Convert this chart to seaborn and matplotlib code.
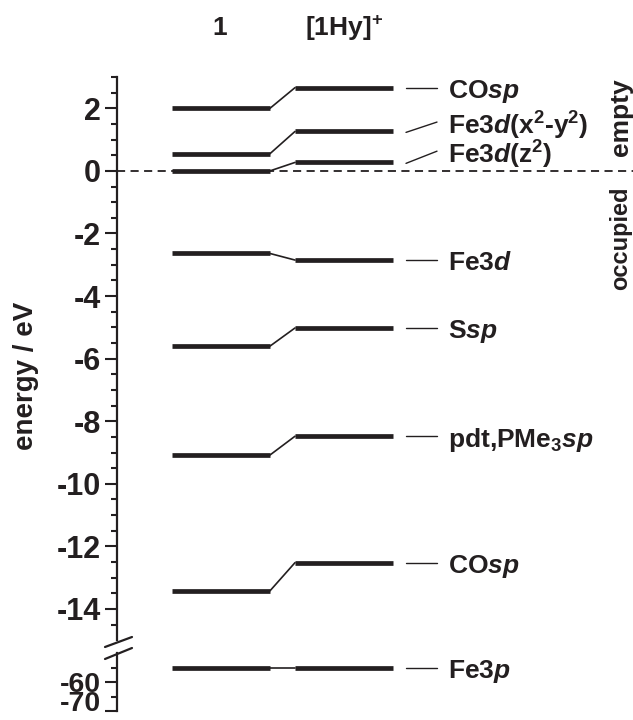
import numpy as np
import pandas as pd
import matplotlib
matplotlib.use("Agg")
import matplotlib.pyplot as plt
from matplotlib.lines import Line2D
import seaborn as sns

# ---------------- data ----------------
species = ["1", "[1Hy]$^{+}$"]
orbitals = ["COsp_up", "Fe3d(x2-y2)", "Fe3d(z2)", "Fe3d", "Ssp", "pdt,PMe3sp", "COsp_low", "Fe3p"]
energy_1 = [2.0, 0.55, 0.0, -2.64, -5.60, -9.08, -13.42, -55.3]
energy_hy = [2.66, 1.26, 0.27, -2.85, -5.02, -8.48, -12.52, -55.3]
orbital_labels = [r"CO$\mathit{sp}$", r"Fe3$\mathit{d}$(x$^{2}$-y$^{2}$)", r"Fe3$\mathit{d}$(z$^{2}$)",
                  r"Fe3$\mathit{d}$", r"S$\mathit{sp}$", r"pdt,PMe$_{3}\mathit{sp}$", r"CO$\mathit{sp}$",
                  r"Fe3$\mathit{p}$"]
label_shift = [0.0, 0.30, 0.36, 0.0, 0.0, 0.0, 0.0, 0.0]   # slanted label pointers (eV)
upper_ticks = [-14, -12, -10, -8, -6, -4, -2, 0, 2]
lower_ticks = [-70, -60]
region_labels = ["empty", "occupied"]

# ---------------- style ----------------
sns.set_theme(style="ticks")
INK = "#231f20"
plt.rcParams.update({
    "font.family": ["Liberation Sans", "DejaVu Sans"],
    "font.weight": "bold",
    "mathtext.fontset": "custom",
    "mathtext.rm": "Liberation Sans:bold",
    "mathtext.it": "Liberation Sans:italic:bold",
    "mathtext.bf": "Liberation Sans:bold",
    "mathtext.default": "rm",
    "axes.unicode_minus": False,
    "axes.edgecolor": INK,
    "xtick.color": INK,
    "ytick.color": INK,
    "text.color": INK,
})

W, H = 633, 720
fig = plt.figure(figsize=(W / 100, H / 100), dpi=100)
fig.patch.set_facecolor("white")

AX_L = 117
ax_up = fig.add_axes([AX_L / W, 1 - 640.25 / H, (W - AX_L) / W, (640.25 - 77) / H])
ax_lo = fig.add_axes([AX_L / W, 1 - 711 / H, (W - AX_L) / W, (711 - 653) / H])

# layout in x (pixel-like units)
X1 = (172, 270)
X2 = (295, 393)
DASH = (406, 437)
TXT = 448

# build tables
rows = []
conn = []
for i, (orb, e1, e2) in enumerate(zip(orbitals, energy_1, energy_hy)):
    rows += [dict(seg=f"1_{i}", x=X1[0], energy=e1, orb=orb),
             dict(seg=f"1_{i}", x=X1[1], energy=e1, orb=orb),
             dict(seg=f"h_{i}", x=X2[0], energy=e2, orb=orb),
             dict(seg=f"h_{i}", x=X2[1], energy=e2, orb=orb)]
    conn += [dict(seg=f"c_{i}", x=X1[1], energy=e1, orb=orb),
             dict(seg=f"c_{i}", x=X2[0], energy=e2, orb=orb)]
levels = pd.DataFrame(rows)
links = pd.DataFrame(conn)

for ax, lo, hi, lsize in [(ax_up, -15, 3, 22), (ax_lo, -70, -50, 20.5)]:
    sel_l = levels[(levels.energy >= lo) & (levels.energy <= hi)]
    sel_c = links[(links.energy >= lo) & (links.energy <= hi)]
    sns.lineplot(data=sel_c, x="x", y="energy", units="seg", estimator=None, sort=False,
                 color=INK, lw=1.2, ax=ax, legend=False)
    sns.lineplot(data=sel_l, x="x", y="energy", units="seg", estimator=None, sort=False,
                 color=INK, lw=3.4, ax=ax, legend=False, solid_capstyle="butt")
    ax.set_xlim(AX_L, W)
    ax.set_ylim(lo, hi)
    ax.set_xlabel("")
    ax.set_ylabel("")
    ax.set_xticks([])
    for s in ["top", "right", "bottom"]:
        ax.spines[s].set_visible(False)
    ax.spines["left"].set_linewidth(1.6)
    ax.tick_params(axis="y", which="major", length=8.5, width=1.5, labelsize=lsize, pad=3)
    ax.tick_params(axis="y", which="minor", length=4.5, width=1.5)
    ax.patch.set_alpha(0)

ax_up.set_yticks(upper_ticks)
ax_up.set_yticks(np.arange(-14.5, 3.01, 0.5), minor=True)
ax_lo.set_yticks(lower_ticks)
ax_lo.set_yticks([-65, -55], minor=True)
for ax in (ax_up, ax_lo):
    for t in ax.get_yticklabels():
        t.set_fontweight("bold")

# keep the bottom "-70" label inside the canvas
for tick in ax_lo.yaxis.get_major_ticks():
    if abs(tick.get_loc() - (-70)) < 1e-6:
        tick.label1.set_va("baseline")

# zero (Fermi) dashed line
ax_up.axhline(0, color=INK, lw=1.3, ls=(0, (4.5, 3)), zorder=0)

# orbital labels with pointers
for i, (lab, e2) in enumerate(zip(orbital_labels, energy_hy)):
    ax = ax_up if e2 > -20 else ax_lo
    ye = e2 + label_shift[i]
    ax.plot([DASH[0], DASH[1]], [e2 - (0.03 if label_shift[i] else 0), ye], color=INK, lw=1.0)
    ax.text(TXT, ye, lab, fontsize=19, fontweight="bold", ha="left", va="center_baseline")

# column titles
fig.text(220 / W, 1 - 28 / H, species[0], fontsize=19, fontweight="bold", ha="center", va="center")
fig.text(344 / W, 1 - 28 / H, species[1], fontsize=19, fontweight="bold", ha="center", va="center")

# region labels
fig.text(621 / W, 1 - 117 / H, region_labels[0], rotation=90, fontsize=19, fontweight="bold",
         ha="center", va="center")
fig.text(621 / W, 1 - 238 / H, region_labels[1], rotation=90, fontsize=17, fontweight="bold",
         ha="center", va="center")

# y-axis label
fig.text(26 / W, 1 - 376 / H, "energy / eV", rotation=90, fontsize=20, fontweight="bold",
         ha="center", va="center")

# axis break marks
for (x0, y0, x1, y1) in [(105, 647, 132, 637), (105, 659, 132, 648)]:
    fig.add_artist(Line2D([x0 / W, x1 / W], [1 - y0 / H, 1 - y1 / H], color=INK, lw=1.6,
                          transform=fig.transFigure))

fig.savefig("out.png", dpi=100, facecolor="white")
